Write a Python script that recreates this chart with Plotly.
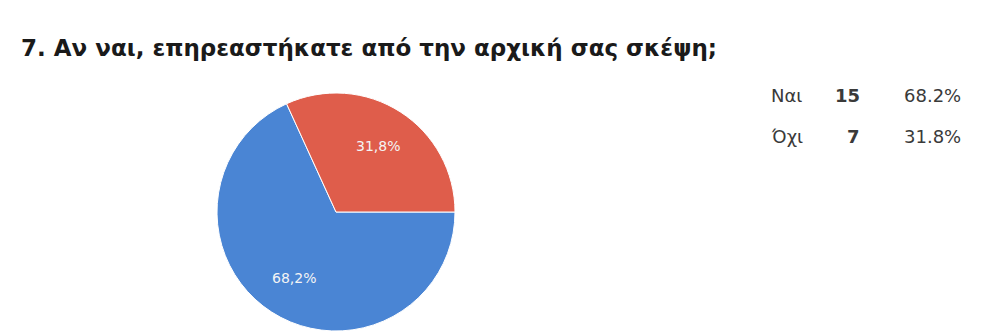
import math
import plotly.graph_objects as go

# Survey answers
answers = ["Ναι", "Όχι"]
counts = [15, 7]
slice_colors = ["#4a85d4", "#df5d4b"]

title_text = "7. Αν ναι, επηρεαστήκατε από την αρχική σας σκέψη;"

W, H = 989, 336
FONT = "DejaVu Sans, Liberation Sans, Arial, sans-serif"

total = sum(counts)
shares = [c / total * 100 for c in counts]
slice_text = [f"{s:.1f}".replace(".", ",") + "%" for s in shares]   # 68,2%
table_text = [f"{s:.1f}%" for s in shares]                          # 68.2%

# Pie placement (paper fractions) and start angle
cx, cy, r = 336, 212, 119
dom_x = [(cx - r) / W, (cx + r) / W]
dom_y = [(H - cy - r) / H, (H - cy + r) / H]
rotation = 90  # first slice starts at 3 o'clock, going clockwise

fig = go.Figure()
fig.add_trace(go.Pie(
    labels=answers,
    values=counts,
    textinfo="none",
    marker=dict(colors=slice_colors, line=dict(color="#ffffff", width=1)),
    sort=False,
    direction="clockwise",
    rotation=rotation,
    hoverinfo="label+value+percent",
    showlegend=False,
    domain=dict(x=dom_x, y=dom_y),
))

# Percentage labels at the middle angle of each slice
acc = 0.0
for txt, c in zip(slice_text, counts):
    mid = acc + c / total / 2
    acc += c / total
    ang = math.radians(rotation + 360 * mid)   # clockwise from 12 o'clock
    px = cx + 0.66 * r * math.sin(ang)
    py = cy - 0.66 * r * math.cos(ang)
    fig.add_annotation(x=px / W, y=1 - py / H, xref="paper", yref="paper",
                       text=txt, showarrow=False, xanchor="center", yanchor="middle",
                       font=dict(family=FONT, size=14, color="#f4f4f4"))

# Right-hand summary table: answer, count, percentage
row_y = [95, 136]
for name, n, pct, y in zip(answers, counts, table_text, row_y):
    yp = 1 - y / H
    fig.add_annotation(x=769 / W, y=yp, xref="paper", yref="paper",
                       text=name, showarrow=False, xanchor="left", yanchor="middle",
                       font=dict(family=FONT, size=18, color="#3a3a3a"))
    fig.add_annotation(x=862 / W, y=yp, xref="paper", yref="paper",
                       text=f"<b>{n}</b>", showarrow=False, xanchor="right", yanchor="middle",
                       font=dict(family=FONT, size=18, color="#3a3a3a"))
    fig.add_annotation(x=963 / W, y=yp, xref="paper", yref="paper",
                       text=pct, showarrow=False, xanchor="right", yanchor="middle",
                       font=dict(family=FONT, size=18, color="#3a3a3a"))

fig.update_layout(
    width=W, height=H,
    margin=dict(l=0, r=0, t=0, b=0),
    paper_bgcolor="#ffffff",
    plot_bgcolor="#ffffff",
    title=dict(text=f"<b>{title_text}</b>", x=21 / W, xanchor="left",
               y=1 - 48 / H, yanchor="middle",
               font=dict(family=FONT, size=23, color="#1a1a1a")),
)

fig.write_html("out.html")
